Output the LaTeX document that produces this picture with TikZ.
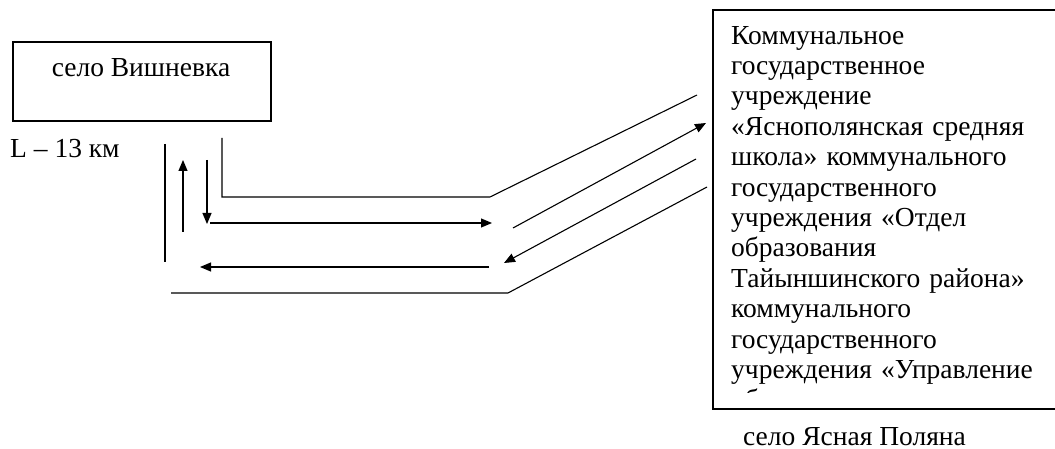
\documentclass[tikz,border=0pt]{standalone}
\usepackage{fontspec}
\setmainfont{Liberation Serif}
\usetikzlibrary{arrows.meta}
\tikzset{
  ln/.style={line width=1.1pt},
  arr/.style={line width=1.1pt,-{Triangle[length=11pt,width=9pt]}},
  lbl/.style={inner sep=0pt,font=\fontsize{27.5}{30.4}\selectfont}
}
\begin{document}
\begin{tikzpicture}[x=1pt,y=-1pt]
\useasboundingbox (0,0) rectangle (1055,449);
% left box
\draw[ln] (13,42) rectangle (271,121);
\node[lbl,anchor=base] (vish) at (141,77) {село Вишневка};
\node[lbl,anchor=base west] (dist) at (10,158) {L -- 13 км};
% right box
\draw[ln] (713,10) rectangle (1070,409);
\begin{scope}
\clip (713,10) rectangle (1055,392);
\node[lbl,anchor=north west,align=left,text width=330pt] (school) at (731,25.8)
{Коммунальное\\
государственное\\
учреждение\\
«Яснополянская средняя\\
школа» коммунального\\
государственного\\
учреждения «Отдел\\
образования\\
Тайыншинского района»\\
коммунального\\
государственного\\
учреждения «Управление\\
образования};
\end{scope}
\node[lbl,anchor=base west] (yas) at (743,445) {село Ясная Поляна};
% road lines
\coordinate (a1) at (222,138);
\coordinate (a2) at (490,197);
\coordinate (a3) at (697,95);
\draw[ln] (a1) |- (a2) -- (a3);
\coordinate (b1) at (207,160);
\coordinate (b2) at (207,224);
\draw[arr] (b1) -- (b2);
\coordinate (c1) at (210,223);
\coordinate (c2) at (492,223);
\draw[arr] (c1) -- (c2);
\coordinate (d1) at (513,228);
\coordinate (d2) at (706,123);
\draw[arr] (d1) -- (d2);
\coordinate (e1) at (696,159);
\coordinate (e2) at (504,263);
\draw[arr] (e1) -- (e2);
\coordinate (f1) at (489,267);
\coordinate (f2) at (200,267);
\draw[arr] (f1) -- (f2);
\coordinate (g1) at (183,232);
\coordinate (g2) at (183,160);
\draw[arr] (g1) -- (g2);
\coordinate (h1) at (165,144);
\coordinate (h2) at (165,262);
\draw[ln] (h1) -- (h2);
\coordinate (k1) at (171,293);
\coordinate (k2) at (508,293);
\coordinate (k3) at (707,187);
\draw[ln] (k1) -- (k2) -- (k3);
\end{tikzpicture}
\end{document}
